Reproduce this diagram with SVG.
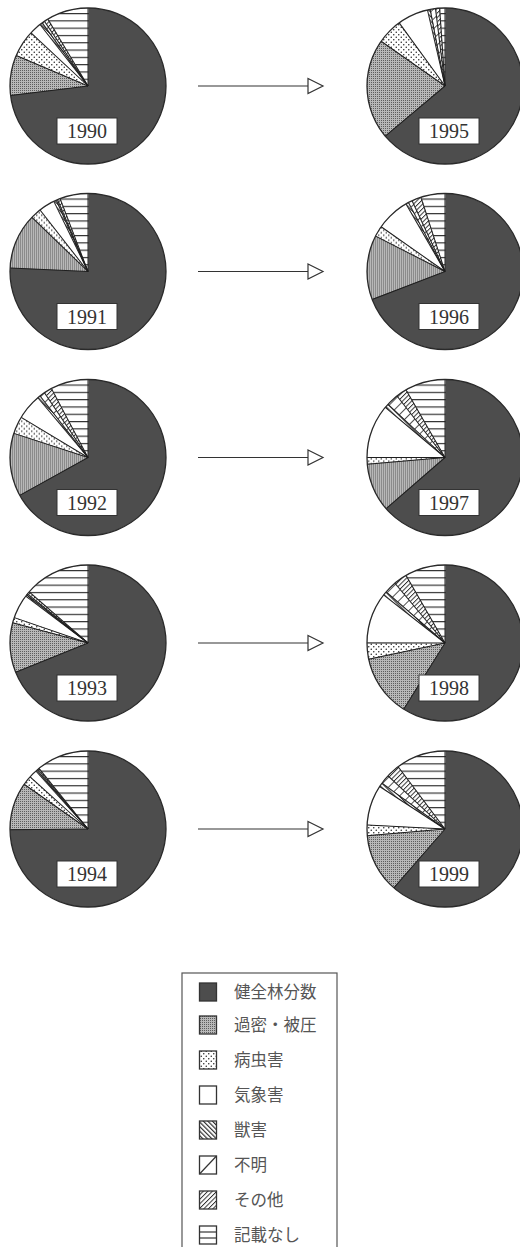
<svg xmlns="http://www.w3.org/2000/svg" width="520" height="1247" viewBox="0 0 520 1247">
<style>
.bg{fill:#4d4d4d}
.s{fill:none;stroke-width:78}
.r{stroke:#1e1e1e;stroke-width:1}
.o{fill:none;stroke:#2a2a2a;stroke-width:1.3}
.lb{fill:#fff;stroke:#333;stroke-width:1}
.yr{font-family:"Liberation Serif",serif;font-size:20px;fill:#333;text-anchor:middle}
.ar{stroke:#333;stroke-width:1.2;fill:none}
.ah{fill:#fff;stroke:#333;stroke-width:1.2}
.sw{stroke:#333;stroke-width:1.3}
.lt{font-family:"Noto Sans CJK JP",sans-serif;font-size:16.5px;fill:#555}
</style>
<defs>
<pattern id="pG" width="2" height="2" patternUnits="userSpaceOnUse"><rect width="2" height="2" fill="#b8b8b8"/><rect width="1" height="1" fill="#5e5e5e"/></pattern>
<pattern id="pD" width="5" height="5" patternUnits="userSpaceOnUse"><rect width="5" height="5" fill="#fff"/><circle cx="1.25" cy="1.25" r="0.75" fill="#222"/><circle cx="3.75" cy="3.75" r="0.75" fill="#222"/></pattern>
<pattern id="pW" width="5" height="5" patternUnits="userSpaceOnUse"><rect width="5" height="5" fill="#fff"/></pattern>
<pattern id="pB" width="3.2" height="3.2" patternUnits="userSpaceOnUse" patternTransform="rotate(-45)"><rect width="3.2" height="3.2" fill="#fff"/><line x1="0.6" y1="0" x2="0.6" y2="3.2" stroke="#222" stroke-width="1.1"/></pattern>
<pattern id="pU" width="7" height="7" patternUnits="userSpaceOnUse" patternTransform="rotate(45)"><rect width="7" height="7" fill="#fff"/><line x1="0.5" y1="0" x2="0.5" y2="7" stroke="#222" stroke-width="0.8"/></pattern>
<pattern id="pF" width="3.2" height="3.2" patternUnits="userSpaceOnUse" patternTransform="rotate(45)"><rect width="3.2" height="3.2" fill="#fff"/><line x1="0.5" y1="0" x2="0.5" y2="3.2" stroke="#222" stroke-width="0.9"/></pattern>
<pattern id="pH" width="10" height="7.3" patternUnits="userSpaceOnUse"><rect width="10" height="7.3" fill="#fff"/><line x1="0" y1="0.6" x2="10" y2="0.6" stroke="#222" stroke-width="1.1"/></pattern>
</defs>

<g id="connectors">
<g><line class="ar" x1="198" y1="86" x2="308" y2="86"/><polygon class="ah" points="308,78.5 323,86 308,93.5"/></g>
<g><line class="ar" x1="198" y1="271.5" x2="308" y2="271.5"/><polygon class="ah" points="308,264 323,271.5 308,279"/></g>
<g><line class="ar" x1="198" y1="457.5" x2="308" y2="457.5"/><polygon class="ah" points="308,450 323,457.5 308,465"/></g>
<g><line class="ar" x1="198" y1="643" x2="308" y2="643"/><polygon class="ah" points="308,635.5 323,643 308,650.5"/></g>
<g><line class="ar" x1="198" y1="829" x2="308" y2="829"/><polygon class="ah" points="308,821.5 323,829 308,836.5"/></g>
</g>

<g id="pie-1990" transform="translate(88 86)">
<circle class="bg" r="78"/>
<circle class="s" r="39" stroke="url(#pG)" stroke-dasharray="20.42 1000" stroke-dashoffset="-117.76"/>
<circle class="s" r="39" stroke="url(#pD)" stroke-dasharray="13.61 1000" stroke-dashoffset="-138.18"/>
<circle class="s" r="39" stroke="url(#pW)" stroke-dasharray="6.13 1000" stroke-dashoffset="-151.79"/>
<circle class="s" r="39" stroke="url(#pB)" stroke-dasharray="1.36 1000" stroke-dashoffset="-157.92"/>
<circle class="s" r="39" stroke="url(#pU)" stroke-dasharray="1.36 1000" stroke-dashoffset="-159.28"/>
<circle class="s" r="39" stroke="url(#pF)" stroke-dasharray="2.04 1000" stroke-dashoffset="-160.64"/>
<circle class="s" r="39" stroke="url(#pH)" stroke-dasharray="21.10 1000" stroke-dashoffset="-162.68"/>
<g class="r"><line y2="-78"/><line y2="-78" transform="rotate(263)"/><line y2="-78" transform="rotate(293)"/><line y2="-78" transform="rotate(313)"/><line y2="-78" transform="rotate(322)"/><line y2="-78" transform="rotate(324)"/><line y2="-78" transform="rotate(326)"/><line y2="-78" transform="rotate(329)"/></g>
<circle class="o" r="78"/>
<rect class="lb" x="-31" y="32" width="60" height="26"/>
<text class="yr" x="-1" y="52">1990</text>
</g>

<g id="pie-1995" transform="translate(445 86)">
<circle class="bg" r="78"/>
<circle class="s" r="39" stroke="url(#pG)" stroke-dasharray="51.05 1000" stroke-dashoffset="-95.29"/>
<circle class="s" r="39" stroke="url(#pD)" stroke-dasharray="12.93 1000" stroke-dashoffset="-146.35"/>
<circle class="s" r="39" stroke="url(#pW)" stroke-dasharray="15.65 1000" stroke-dashoffset="-159.28"/>
<circle class="s" r="39" stroke="url(#pB)" stroke-dasharray="1.36 1000" stroke-dashoffset="-174.93"/>
<circle class="s" r="39" stroke="url(#pU)" stroke-dasharray="2.72 1000" stroke-dashoffset="-176.30"/>
<circle class="s" r="39" stroke="url(#pF)" stroke-dasharray="2.04 1000" stroke-dashoffset="-179.02"/>
<circle class="s" r="39" stroke="url(#pH)" stroke-dasharray="2.72 1000" stroke-dashoffset="-181.06"/>
<g class="r"><line y2="-78"/><line y2="-78" transform="rotate(230)"/><line y2="-78" transform="rotate(305)"/><line y2="-78" transform="rotate(324)"/><line y2="-78" transform="rotate(347)"/><line y2="-78" transform="rotate(349)"/><line y2="-78" transform="rotate(353)"/><line y2="-78" transform="rotate(356)"/></g>
<circle class="o" r="78"/>
<rect class="lb" x="-26" y="32" width="60" height="26"/>
<text class="yr" x="4" y="52">1995</text>
</g>

<g id="pie-1991" transform="translate(88 271.5)">
<circle class="bg" r="78"/>
<circle class="s" r="39" stroke="url(#pG)" stroke-dasharray="28.25 1000" stroke-dashoffset="-124.22"/>
<circle class="s" r="39" stroke="url(#pD)" stroke-dasharray="5.45 1000" stroke-dashoffset="-152.47"/>
<circle class="s" r="39" stroke="url(#pW)" stroke-dasharray="8.17 1000" stroke-dashoffset="-157.92"/>
<circle class="s" r="39" stroke="url(#pB)" stroke-dasharray="1.36 1000" stroke-dashoffset="-166.09"/>
<circle class="s" r="39" stroke="url(#pU)" stroke-dasharray="0.68 1000" stroke-dashoffset="-167.45"/>
<circle class="s" r="39" stroke="url(#pF)" stroke-dasharray="1.36 1000" stroke-dashoffset="-168.13"/>
<circle class="s" r="39" stroke="url(#pH)" stroke-dasharray="14.29 1000" stroke-dashoffset="-169.49"/>
<g class="r"><line y2="-78"/><line y2="-78" transform="rotate(272.5)"/><line y2="-78" transform="rotate(314)"/><line y2="-78" transform="rotate(322)"/><line y2="-78" transform="rotate(334)"/><line y2="-78" transform="rotate(336)"/><line y2="-78" transform="rotate(337)"/><line y2="-78" transform="rotate(339)"/></g>
<circle class="o" r="78"/>
<rect class="lb" x="-31" y="32" width="60" height="26"/>
<text class="yr" x="-1" y="52">1991</text>
</g>

<g id="pie-1996" transform="translate(445 271.5)">
<circle class="bg" r="78"/>
<circle class="s" r="39" stroke="url(#pG)" stroke-dasharray="32.67 1000" stroke-dashoffset="-108.23"/>
<circle class="s" r="39" stroke="url(#pD)" stroke-dasharray="5.45 1000" stroke-dashoffset="-140.90"/>
<circle class="s" r="39" stroke="url(#pW)" stroke-dasharray="17.01 1000" stroke-dashoffset="-146.35"/>
<circle class="s" r="39" stroke="url(#pB)" stroke-dasharray="1.36 1000" stroke-dashoffset="-163.36"/>
<circle class="s" r="39" stroke="url(#pU)" stroke-dasharray="2.05 1000" stroke-dashoffset="-164.72"/>
<circle class="s" r="39" stroke="url(#pF)" stroke-dasharray="4.76 1000" stroke-dashoffset="-166.77"/>
<circle class="s" r="39" stroke="url(#pH)" stroke-dasharray="12.25 1000" stroke-dashoffset="-171.53"/>
<g class="r"><line y2="-78"/><line y2="-78" transform="rotate(249)"/><line y2="-78" transform="rotate(297)"/><line y2="-78" transform="rotate(305)"/><line y2="-78" transform="rotate(330)"/><line y2="-78" transform="rotate(332)"/><line y2="-78" transform="rotate(335)"/><line y2="-78" transform="rotate(342)"/></g>
<circle class="o" r="78"/>
<rect class="lb" x="-26" y="32" width="60" height="26"/>
<text class="yr" x="4" y="52">1996</text>
</g>

<g id="pie-1992" transform="translate(88 457.5)">
<circle class="bg" r="78"/>
<circle class="s" r="39" stroke="url(#pG)" stroke-dasharray="31.99 1000" stroke-dashoffset="-102.78"/>
<circle class="s" r="39" stroke="url(#pD)" stroke-dasharray="8.85 1000" stroke-dashoffset="-134.77"/>
<circle class="s" r="39" stroke="url(#pW)" stroke-dasharray="12.94 1000" stroke-dashoffset="-143.62"/>
<circle class="s" r="39" stroke="url(#pB)" stroke-dasharray="1.36 1000" stroke-dashoffset="-156.56"/>
<circle class="s" r="39" stroke="url(#pU)" stroke-dasharray="2.72 1000" stroke-dashoffset="-157.92"/>
<circle class="s" r="39" stroke="url(#pF)" stroke-dasharray="4.08 1000" stroke-dashoffset="-160.64"/>
<circle class="s" r="39" stroke="url(#pH)" stroke-dasharray="19.06 1000" stroke-dashoffset="-164.72"/>
<g class="r"><line y2="-78"/><line y2="-78" transform="rotate(241)"/><line y2="-78" transform="rotate(288)"/><line y2="-78" transform="rotate(301)"/><line y2="-78" transform="rotate(320)"/><line y2="-78" transform="rotate(322)"/><line y2="-78" transform="rotate(326)"/><line y2="-78" transform="rotate(332)"/></g>
<circle class="o" r="78"/>
<rect class="lb" x="-31" y="32" width="60" height="26"/>
<text class="yr" x="-1" y="52">1992</text>
</g>

<g id="pie-1997" transform="translate(445 457.5)">
<circle class="bg" r="78"/>
<circle class="s" r="39" stroke="url(#pG)" stroke-dasharray="24.51 1000" stroke-dashoffset="-94.61"/>
<circle class="s" r="39" stroke="url(#pD)" stroke-dasharray="3.40 1000" stroke-dashoffset="-119.12"/>
<circle class="s" r="39" stroke="url(#pW)" stroke-dasharray="27.23 1000" stroke-dashoffset="-122.52"/>
<circle class="s" r="39" stroke="url(#pB)" stroke-dasharray="2.04 1000" stroke-dashoffset="-149.75"/>
<circle class="s" r="39" stroke="url(#pU)" stroke-dasharray="6.13 1000" stroke-dashoffset="-151.79"/>
<circle class="s" r="39" stroke="url(#pF)" stroke-dasharray="5.44 1000" stroke-dashoffset="-157.92"/>
<circle class="s" r="39" stroke="url(#pH)" stroke-dasharray="20.42 1000" stroke-dashoffset="-163.36"/>
<g class="r"><line y2="-78"/><line y2="-78" transform="rotate(229)"/><line y2="-78" transform="rotate(265)"/><line y2="-78" transform="rotate(270)"/><line y2="-78" transform="rotate(310)"/><line y2="-78" transform="rotate(313)"/><line y2="-78" transform="rotate(322)"/><line y2="-78" transform="rotate(330)"/></g>
<circle class="o" r="78"/>
<rect class="lb" x="-26" y="32" width="60" height="26"/>
<text class="yr" x="4" y="52">1997</text>
</g>

<g id="pie-1993" transform="translate(88 643)">
<circle class="bg" r="78"/>
<circle class="s" r="39" stroke="url(#pG)" stroke-dasharray="25.18 1000" stroke-dashoffset="-107.55"/>
<circle class="s" r="39" stroke="url(#pD)" stroke-dasharray="2.72 1000" stroke-dashoffset="-132.73"/>
<circle class="s" r="39" stroke="url(#pW)" stroke-dasharray="12.26 1000" stroke-dashoffset="-135.45"/>
<circle class="s" r="39" stroke="url(#pB)" stroke-dasharray="0.68 1000" stroke-dashoffset="-147.71"/>
<circle class="s" r="39" stroke="url(#pU)" stroke-dasharray="0.68 1000" stroke-dashoffset="-148.39"/>
<circle class="s" r="39" stroke="url(#pF)" stroke-dasharray="1.36 1000" stroke-dashoffset="-149.07"/>
<circle class="s" r="39" stroke="url(#pH)" stroke-dasharray="33.35 1000" stroke-dashoffset="-150.43"/>
<g class="r"><line y2="-78"/><line y2="-78" transform="rotate(248)"/><line y2="-78" transform="rotate(285)"/><line y2="-78" transform="rotate(289)"/><line y2="-78" transform="rotate(307)"/><line y2="-78" transform="rotate(308)"/><line y2="-78" transform="rotate(309)"/><line y2="-78" transform="rotate(311)"/></g>
<circle class="o" r="78"/>
<rect class="lb" x="-31" y="32" width="60" height="26"/>
<text class="yr" x="-1" y="52">1993</text>
</g>

<g id="pie-1998" transform="translate(445 643)">
<circle class="bg" r="78"/>
<circle class="s" r="39" stroke="url(#pG)" stroke-dasharray="31.31 1000" stroke-dashoffset="-83.04"/>
<circle class="s" r="39" stroke="url(#pD)" stroke-dasharray="8.17 1000" stroke-dashoffset="-114.35"/>
<circle class="s" r="39" stroke="url(#pW)" stroke-dasharray="25.87 1000" stroke-dashoffset="-122.52"/>
<circle class="s" r="39" stroke="url(#pB)" stroke-dasharray="2.04 1000" stroke-dashoffset="-148.39"/>
<circle class="s" r="39" stroke="url(#pU)" stroke-dasharray="6.13 1000" stroke-dashoffset="-150.43"/>
<circle class="s" r="39" stroke="url(#pF)" stroke-dasharray="6.80 1000" stroke-dashoffset="-156.56"/>
<circle class="s" r="39" stroke="url(#pH)" stroke-dasharray="20.42 1000" stroke-dashoffset="-163.36"/>
<g class="r"><line y2="-78"/><line y2="-78" transform="rotate(212)"/><line y2="-78" transform="rotate(258)"/><line y2="-78" transform="rotate(270)"/><line y2="-78" transform="rotate(308)"/><line y2="-78" transform="rotate(311)"/><line y2="-78" transform="rotate(320)"/><line y2="-78" transform="rotate(330)"/></g>
<circle class="o" r="78"/>
<rect class="lb" x="-26" y="32" width="60" height="26"/>
<text class="yr" x="4" y="52">1998</text>
</g>

<g id="pie-1994" transform="translate(88 829)">
<circle class="bg" r="78"/>
<circle class="s" r="39" stroke="url(#pG)" stroke-dasharray="24.17 1000" stroke-dashoffset="-122.18"/>
<circle class="s" r="39" stroke="url(#pD)" stroke-dasharray="4.76 1000" stroke-dashoffset="-146.35"/>
<circle class="s" r="39" stroke="url(#pW)" stroke-dasharray="4.08 1000" stroke-dashoffset="-151.11"/>
<circle class="s" r="39" stroke="url(#pB)" stroke-dasharray="0.69 1000" stroke-dashoffset="-155.19"/>
<circle class="s" r="39" stroke="url(#pU)" stroke-dasharray="0.68 1000" stroke-dashoffset="-155.88"/>
<circle class="s" r="39" stroke="url(#pF)" stroke-dasharray="0.68 1000" stroke-dashoffset="-156.56"/>
<circle class="s" r="39" stroke="url(#pH)" stroke-dasharray="26.54 1000" stroke-dashoffset="-157.24"/>
<g class="r"><line y2="-78"/><line y2="-78" transform="rotate(269.5)"/><line y2="-78" transform="rotate(305)"/><line y2="-78" transform="rotate(312)"/><line y2="-78" transform="rotate(318)"/><line y2="-78" transform="rotate(319)"/><line y2="-78" transform="rotate(320)"/><line y2="-78" transform="rotate(321)"/></g>
<circle class="o" r="78"/>
<rect class="lb" x="-31" y="32" width="60" height="26"/>
<text class="yr" x="-1" y="52">1994</text>
</g>

<g id="pie-1999" transform="translate(445 829)">
<circle class="bg" r="78"/>
<circle class="s" r="39" stroke="url(#pG)" stroke-dasharray="29.95 1000" stroke-dashoffset="-89.17"/>
<circle class="s" r="39" stroke="url(#pD)" stroke-dasharray="5.44 1000" stroke-dashoffset="-119.12"/>
<circle class="s" r="39" stroke="url(#pW)" stroke-dasharray="20.42 1000" stroke-dashoffset="-124.56"/>
<circle class="s" r="39" stroke="url(#pB)" stroke-dasharray="2.05 1000" stroke-dashoffset="-144.98"/>
<circle class="s" r="39" stroke="url(#pU)" stroke-dasharray="4.76 1000" stroke-dashoffset="-147.03"/>
<circle class="s" r="39" stroke="url(#pF)" stroke-dasharray="6.81 1000" stroke-dashoffset="-151.79"/>
<circle class="s" r="39" stroke="url(#pH)" stroke-dasharray="25.18 1000" stroke-dashoffset="-158.60"/>
<g class="r"><line y2="-78"/><line y2="-78" transform="rotate(221)"/><line y2="-78" transform="rotate(265)"/><line y2="-78" transform="rotate(273)"/><line y2="-78" transform="rotate(303)"/><line y2="-78" transform="rotate(306)"/><line y2="-78" transform="rotate(313)"/><line y2="-78" transform="rotate(323)"/></g>
<circle class="o" r="78"/>
<rect class="lb" x="-26" y="32" width="60" height="26"/>
<text class="yr" x="4" y="52">1999</text>
</g>

<g id="legend">
<rect x="182" y="973" width="155" height="300" fill="none" stroke="#555" stroke-width="1.2"/>
<g id="leg-1"><rect class="sw" x="199.5" y="983" width="17" height="18" fill="#4d4d4d"/><text class="lt" x="234" y="998">健全林分数</text></g>
<g id="leg-2"><rect class="sw" x="199.5" y="1016" width="17" height="18" fill="url(#pG)"/><text class="lt" x="234" y="1031">過密・被圧</text></g>
<g id="leg-3"><rect class="sw" x="199.5" y="1051" width="17" height="18" fill="url(#pD)"/><text class="lt" x="234" y="1066">病虫害</text></g>
<g id="leg-4"><rect class="sw" x="199.5" y="1086" width="17" height="18" fill="#fff"/><text class="lt" x="234" y="1101">気象害</text></g>
<g id="leg-5"><rect class="sw" x="199.5" y="1121" width="17" height="18" fill="url(#pB)"/><text class="lt" x="234" y="1136">獣害</text></g>
<g id="leg-6"><rect class="sw" x="199.5" y="1156" width="17" height="18" fill="#fff"/><line x1="199.5" y1="1174" x2="216.5" y2="1156" stroke="#333" stroke-width="1.2"/><text class="lt" x="234" y="1171">不明</text></g>
<g id="leg-7"><rect class="sw" x="199.5" y="1191" width="17" height="18" fill="url(#pF)"/><text class="lt" x="234" y="1206">その他</text></g>
<g id="leg-8"><rect class="sw" x="199.5" y="1226" width="17" height="18" fill="#fff"/><line x1="199.5" y1="1232" x2="216.5" y2="1232" stroke="#333" stroke-width="1.2"/><line x1="199.5" y1="1238" x2="216.5" y2="1238" stroke="#333" stroke-width="1.2"/><text class="lt" x="234" y="1241">記載なし</text></g>
</g>
</svg>
